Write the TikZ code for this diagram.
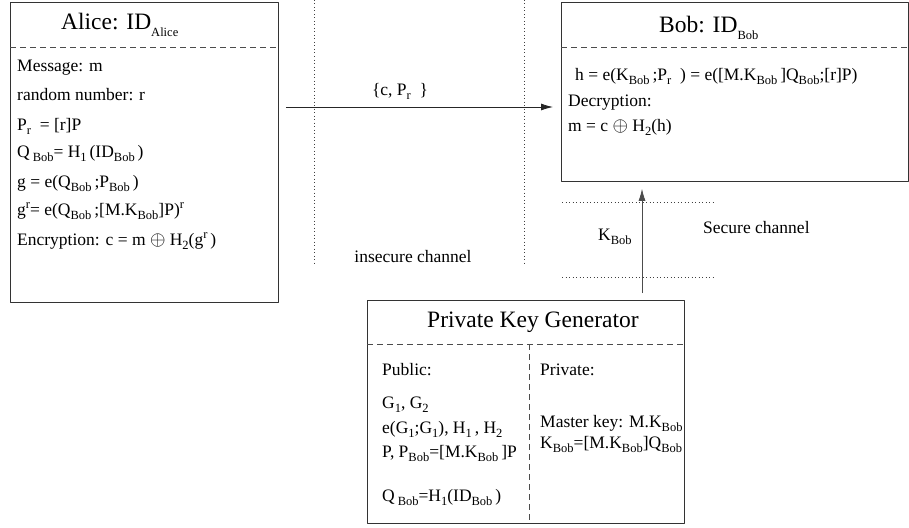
\documentclass[tikz,border=0pt]{standalone}
\usepackage{fontspec}
\setmainfont{Liberation Serif}
\usetikzlibrary{arrows.meta,positioning}
\newcommand\dn[1]{\raisebox{-0.6ex}{\fontsize{12.5}{12.5}\selectfont #1}}
\newcommand\up[1]{\raisebox{0.8ex}{\fontsize{12.5}{12.5}\selectfont #1}}
\newcommand\xor{\scalebox{1.15}{$\oplus$}}
\tikzset{
  box/.style={draw=black!80, line width=0.8pt, inner sep=0pt, anchor=north west},
  divider/.style={draw=black!70, line width=0.8pt, dash pattern=on 6pt off 4pt},
  channel/.style={draw=black!75, line width=0.8pt, dash pattern=on 1pt off 2.5pt},
  conn/.style={draw=black!85, line width=0.8pt, -{Latex[length=12pt,width=7pt]}},
  txt/.style={anchor=base west, inner sep=0pt, font=\fontsize{17.5}{20}\selectfont},
  heading/.style={anchor=base west, inner sep=0pt, font=\fontsize{23.5}{26}\selectfont}
}
\begin{document}
\begin{tikzpicture}[x=1pt, y=-1pt, line join=round]
    \useasboundingbox (0,0) rectangle (909,527);
    % boxes
    \node[box, minimum width=268pt, minimum height=300pt] (alice) at (10,2) {};
    \node[box, minimum width=347pt, minimum height=179pt] (bob) at (561,2) {};
    \node[box, minimum width=317pt, minimum height=223pt] (pkg) at (367,300) {};
    \draw[divider] ([yshift=-45pt]alice.north west) -- ([yshift=-45pt]alice.north east);
    \draw[divider] ([yshift=-45pt]bob.north west) -- ([yshift=-45pt]bob.north east);
    \draw[divider] ([yshift=-44pt]pkg.north west) -- ([yshift=-44pt]pkg.north east);
    \coordinate (split) at (529,344);
    \draw[divider] (split) -- (split |- pkg.south);
    % titles
    \node[heading] (alicetitle) at (61,30) {Alice: ID\dn{Alice}};
    \node[heading] (bobtitle) at (659,33) {Bob: ID\dn{Bob}};
    \node[heading] (pkgtitle) at (427,327) {Private Key Generator};
    % Alice
    \foreach \y/\t [count=\i] in {71/{Message: m}, 100/{random number: r},
        130/{P\dn{r}\ \ = [r]P}, 157/{Q\,\dn{Bob}= H\dn{1}\,(ID\dn{Bob}\,)},
        187/{g = e(Q\dn{Bob}\,;P\dn{Bob}\,)}, 215/{g\up{r}= e(Q\dn{Bob}\,;[M.K\dn{Bob}]P)\up{r}},
        245/{Encryption: c = m \xor{} H\dn{2}(g\up{r}\,)}}
      \node[txt] (a\i) at (17,\y) {\t};
    % Bob
    \node[txt] (b1) at (575,80) {h = e(K\dn{Bob}\,;P\dn{r}\ \ ) = e([M.K\dn{Bob}\,]Q\dn{Bob};[r]P)};
    \node[txt] (b2) at (568,106) {Decryption:};
    \node[txt] (b3) at (568,131) {m = c \xor{} H\dn{2}(h)};
    % PKG
    \foreach \y/\t [count=\i] in {375/{Public:}, 408/{G\dn{1}, G\dn{2}},
        433/{e(G\dn{1};G\dn{1}), H\dn{1}\,, H\dn{2}}, 457/{P, P\dn{Bob}=[M.K\dn{Bob}\,]P},
        501/{Q\,\dn{Bob}=H\dn{1}(ID\dn{Bob}\,)}}
      \node[txt] (pub\i) at (382,\y) {\t};
    \node[txt] (priv1) at (540,375) {Private:};
    \node[txt] (priv2) at (540,427) {Master key: M.K\dn{Bob}};
    \node[txt] (priv3) at (540,448) {K\dn{Bob}=[M.K\dn{Bob}]Q\dn{Bob}};
    % channels
    \draw[channel] (314,0) -- (314,264);
    \draw[channel] (524,0) -- (524,264);
    \node[txt, anchor=base] (insecure) at (413,262) {insecure channel};
    \draw[channel] (562,202) -- (713,202);
    \draw[channel] (562,277) -- (713,277);
    \node[txt] (secure) at (703,233) {Secure channel};
    % messages
    \coordinate (msg) at (0,107);
    \draw[conn, shorten <=7pt, shorten >=8pt] (alice.east |- msg) -- (bob.west |- msg);
    \node[txt, anchor=base] (cipher) at (400,95) {\{c, P\dn{r}\ \ \}};
    \coordinate (key) at (642,0);
    \draw[conn, draw=black!70, shorten <=7pt, shorten >=7pt] (pkg.north -| key) -- (bob.south -| key);
    \node[txt] (kbob) at (598,240) {K\dn{Bob}};
\end{tikzpicture}
\end{document}
